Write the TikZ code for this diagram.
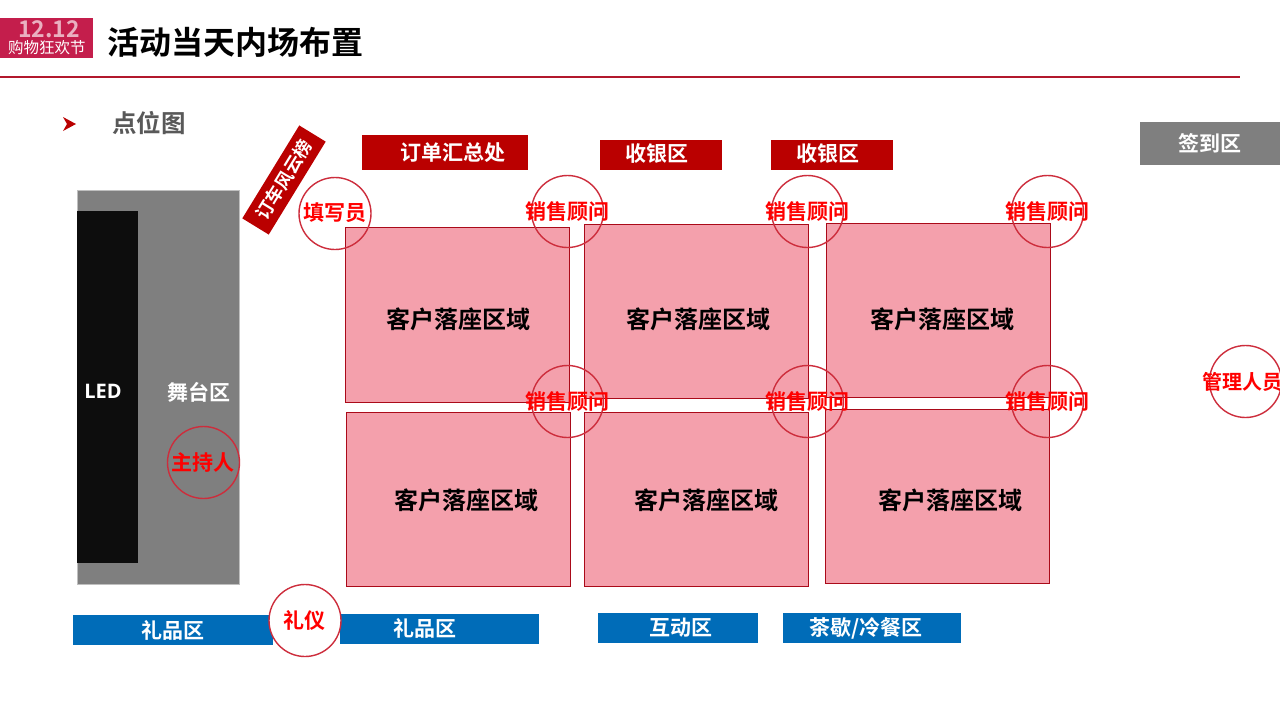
\documentclass[tikz,border=0pt]{standalone}
\usepackage{fontspec}
\setmainfont{Noto Sans CJK SC}[BoldFont={* Bold}]
\newfontfamily\latinfont{Open Sans}[BoldFont={* Bold}]
\usetikzlibrary{calc}
\definecolor{logored}{RGB}{196,30,76}
\definecolor{linered}{RGB}{178,24,44}
\definecolor{ringred}{RGB}{205,45,60}
\definecolor{boxred}{RGB}{186,0,0}
\definecolor{seatedge}{RGB}{170,10,25}
\definecolor{seatpink}{RGB}{244,160,172}
\definecolor{giftblue}{RGB}{0,108,184}
\definecolor{stagegray}{RGB}{127,127,127}
\tikzset{
    seatbox/.style={draw=seatedge, line width=0.7pt, fill=seatpink, minimum width=224pt, minimum height=174.5pt, inner sep=0pt},
    seatlabel/.style={font=\bfseries\fontsize{24}{24}\selectfont, text=black, inner sep=0pt},
    staffring/.style={draw=ringred, line width=1.4pt, circle, minimum size=72pt, inner sep=0pt},
    stafflabel/.style={font=\bfseries\fontsize{21}{21}\selectfont, text=red, inner sep=0pt},
    redbox/.style={fill=boxred, minimum height=32pt, inner sep=0pt, text=white, font=\bfseries\fontsize{21}{21}\selectfont},
    giftbox/.style={fill=giftblue, minimum height=30pt, inner sep=0pt, text=white, font=\bfseries\fontsize{21}{21}\selectfont},
}

\begin{document}
\begin{tikzpicture}[x=1pt, y=-1pt]
            \useasboundingbox (0,0) rectangle (1280,720);
            \fill[white] (0,0) rectangle (1280,720);
            % header
            \node[fill=logored, minimum width=93pt, minimum height=40pt, inner sep=0pt] (logo) at (46.5,38) {};
            \node[text=white!65!logored, font=\bfseries\fontsize{23}{23}\selectfont, inner sep=0pt] (logoyear) at (49,29) {12.12};
            \node[text=white, font=\fontsize{15.5}{15.5}\selectfont, inner sep=0pt] (logotext) at (47,48) {购物狂欢节};
            \node[font=\bfseries\fontsize{32}{32}\selectfont, inner sep=0pt] (title) at (235.5,42) {活动当天内场布置};
            \draw[linered, line width=1.5pt] (0,77) -- (1240,77);
            \fill[boxred] (63,117) -- (76,124) -- (63,131) -- (67,124) -- cycle;
            \node[text=black!65, font=\bfseries\fontsize{24.5}{24.5}\selectfont, inner sep=0pt] (subtitle) at (149,123) {点位图};
            % stage
            \node[fill=stagegray, draw=black!25, line width=0.5pt, minimum width=162pt, minimum height=394pt, inner sep=0pt] (stage) at (158,387) {};
            \node[fill=black!95, minimum width=61pt, minimum height=352pt, inner sep=0pt] (screen) at (107.5,387) {};
            \node[text=white, font=\latinfont\bfseries\fontsize{20}{20}\selectfont, inner sep=0pt] (led) at (103,391) {LED};
            \node[text=white, font=\bfseries\fontsize{21}{21}\selectfont, inner sep=0pt] (stagelabel) at (199,392) {舞台区};
            % top boxes
            \node[redbox, minimum width=109pt, minimum height=31pt, rotate=58.5, font=\bfseries\fontsize{18}{18}\selectfont] (board) at (284,180) {订车风云榜};
            \node[redbox, minimum width=166pt, minimum height=35pt] (orderbox) at (445,152.5) {};
            \node[text=white, font=\bfseries\fontsize{21}{21}\selectfont, inner sep=0pt] (orderlabel) at (453,153) {订单汇总处};
            \node[redbox, minimum width=122pt, minimum height=30pt] (cashbox) at (661,155) {};
            \node[text=white, font=\bfseries\fontsize{21}{21}\selectfont, inner sep=0pt] (cashlabel) at (657,154) {收银区};
            \node[redbox, minimum width=122pt, minimum height=30pt] (cashboxb) at (832,155) {};
            \node[text=white, font=\bfseries\fontsize{21}{21}\selectfont, inner sep=0pt] (cashlabelb) at (828,154) {收银区};
            \node[fill=stagegray, minimum width=140pt, minimum height=43pt, inner sep=0pt, text=white, font=\bfseries\fontsize{21}{21}\selectfont] (signin) at (1210,143.5) {签到区};
            % seating
            \node[seatbox] (seata) at (457.5,315) {};
            \node[seatbox] (seatb) at (696.5,311.5) {};
            \node[seatbox] (seatc) at (938.5,310.5) {};
            \node[seatbox] (seatd) at (458.5,499.5) {};
            \node[seatbox] (seate) at (696.5,499.5) {};
            \node[seatbox] (seatf) at (937.5,496.5) {};
            \node[seatlabel] (labela) at (458,319) {客户落座区域};
            \node[seatlabel] (labelb) at (698,319) {客户落座区域};
            \node[seatlabel] (labelc) at (942,319) {客户落座区域};
            \node[seatlabel] (labeld) at (466,500) {客户落座区域};
            \node[seatlabel] (labele) at (706,500) {客户落座区域};
            \node[seatlabel] (labelf) at (950,500) {客户落座区域};
            % staff
            \node[staffring] (ringfill) at (335,213.5) {};
            \node[stafflabel] (fill) at (335,213) {填写员};
            \node[staffring] (ringa) at (567.5,211.5) {};
            \node[staffring] (ringb) at (807.5,211.5) {};
            \node[staffring] (ringc) at (1047.5,211.5) {};
            \node[staffring] (ringd) at (567.5,401.5) {};
            \node[staffring] (ringe) at (807.5,401.5) {};
            \node[staffring] (ringf) at (1047.5,401.5) {};
            \node[stafflabel] (salesa) at (567,212) {销售顾问};
            \node[stafflabel] (salesb) at (807,212) {销售顾问};
            \node[stafflabel] (salesc) at (1047,212) {销售顾问};
            \node[stafflabel] (salesd) at (567,402) {销售顾问};
            \node[stafflabel] (salese) at (807,402) {销售顾问};
            \node[stafflabel] (salesf) at (1047,402) {销售顾问};
            \node[staffring] (ringhost) at (203.5,462.5) {};
            \node[stafflabel] (host) at (203,463) {主持人};
            \node[staffring] (ringadmin) at (1245.5,381.5) {};
            \node[stafflabel, font=\bfseries\fontsize{20}{20}\selectfont] (admin) at (1242,382) {管理人员};
            % bottom boxes
            \node[giftbox, minimum width=200pt] (gifta) at (173,630) {礼品区};
            \node[giftbox, minimum width=199pt] (giftb) at (439.5,629) {};
            \node[text=white, font=\bfseries\fontsize{21}{21}\selectfont, inner sep=0pt] (giftlabel) at (425,628) {礼品区};
            \node[giftbox, minimum width=160pt] (play) at (678,628) {};
            \node[text=white, font=\bfseries\fontsize{21}{21}\selectfont, inner sep=0pt] (playlabel) at (681,628) {互动区};
            \node[giftbox, minimum width=178pt] (tea) at (872,628) {};
            \node[text=white, font=\bfseries\fontsize{21}{21}\selectfont, inner sep=0pt] (tealabel) at (866,628) {茶歇/冷餐区};
            \node[staffring, fill=white] (ringetiquette) at (305,620.5) {};
            \node[stafflabel] (etiquette) at (304,620) {礼仪};
        \end{tikzpicture}
\end{document}
